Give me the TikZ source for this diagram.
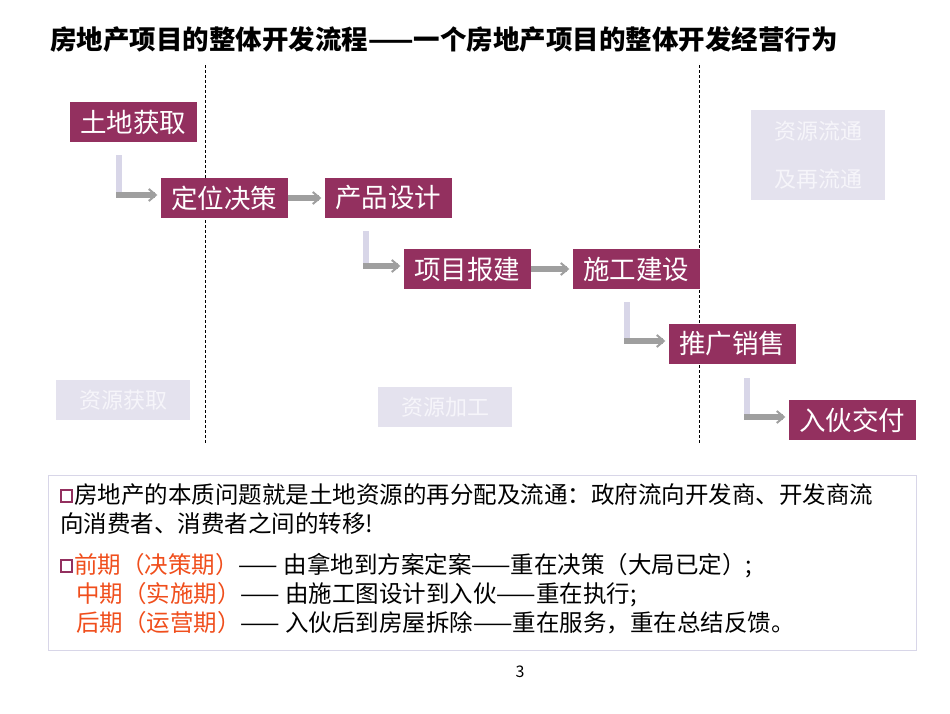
\documentclass[tikz,border=0pt]{standalone}
\usepackage{fontspec}
\setmainfont{Noto Sans CJK SC}
\usetikzlibrary{arrows.meta}
\definecolor{plum}{HTML}{93305F}
\definecolor{pale}{HTML}{E4E2EE}
\definecolor{paletext}{HTML}{F6F5FA}
\definecolor{lav}{HTML}{D8D6E8}
\definecolor{org}{HTML}{F04E1C}
\newcommand{\sqmark}{\tikz[baseline=-1pt,x=1pt,y=1pt]\draw[plum,line width=2.2pt,fill=white] (0,0) rectangle (11,12);}
\tikzset{
 stepbox/.style={fill=plum,text=white,minimum width=127pt,minimum height=40pt,inner sep=0pt,font=\fontsize{26.5}{30}\selectfont},
 palebox/.style={fill=pale,text=paletext,minimum width=134pt,minimum height=40pt,inner sep=0pt,font=\fontsize{22}{48}\selectfont,align=center},
 arr/.style={draw=gray!75,line width=6pt,-{Straight Barb[length=7pt,width=12pt,line width=2pt]},shorten >=3pt},
 bar/.style={draw=lav,line width=6pt},
 sep/.style={dash pattern=on 3pt off 2pt,line width=0.8pt}
}
\begin{document}
\begin{tikzpicture}[x=1pt,y=-1pt]
\useasboundingbox[fill=white] (0,0) rectangle (950,713);
\node[anchor=west,font=\fontsize{26.5}{30}\selectfont\bfseries,inner sep=0pt] (title) at (50,40) {房地产项目的整体开发流程——一个房地产项目的整体开发经营行为};
\coordinate (d1a) at (205,65); \coordinate (d1b) at (205,443);
\coordinate (d2a) at (699,65); \coordinate (d2b) at (699,443);
\draw[sep] (d1a) -- (d1b); \draw[sep] (d2a) -- (d2b);
\node[palebox] (r1) at (123,400) {资源获取};
\node[palebox] (r2) at (445,407) {资源加工};
\node[palebox,minimum height=90pt] (r3) at (818,155) {资源流通\\及再流通};
\node[stepbox] (s1) at (133,122) {土地获取};
\node[stepbox] (s2) at (224,198) {定位决策};
\node[stepbox] (s3) at (388,198) {产品设计};
\node[stepbox] (s4) at (467,269) {项目报建};
\node[stepbox] (s5) at (636,269) {施工建设};
\node[stepbox] (s6) at (732,344) {推广销售};
\node[stepbox] (s7) at (852,420) {入伙交付};
% L connectors
\coordinate (a1t) at (119,155); \coordinate (a1b) at (119,195);
\draw[bar] (a1t) -- (a1b); \draw[arr] (116,195) -- (s2.west |- 0,195);
\coordinate (a2t) at (366,231); \coordinate (a2b) at (366,266);
\draw[bar] (a2t) -- (a2b); \draw[arr] (363,266) -- (s4.west |- 0,266);
\coordinate (a3t) at (627,302); \coordinate (a3b) at (627,341);
\draw[bar] (a3t) -- (a3b); \draw[arr] (624,341) -- (s6.west |- 0,341);
\coordinate (a4t) at (747,378); \coordinate (a4b) at (747,417);
\draw[bar] (a4t) -- (a4b); \draw[arr] (744,417) -- (s7.west |- 0,417);
\draw[arr] (s2.east) -- (s3.west);
\draw[arr] (s4.east) -- (s5.west);
% bottom box
\node[draw=lav,line width=1pt,minimum width=868pt,minimum height=175pt,anchor=north west] (info) at (48,475) {};
\node[anchor=north west,align=left,font=\fontsize{23.5}{29}\selectfont,inner sep=0pt] (txt) at (60,483)
{\sqmark\hspace{1pt}房地产的本质问题就是土地资源的再分配及流通：政府流向开发商、开发商流\\
向消费者、消费者之间的转移!\\[12pt]
\sqmark\hspace{1pt}\textcolor{org}{前期（决策期）}—— 由拿地到方案定案——重在决策（大局已定）;\\
\hspace{16pt}\textcolor{org}{中期（实施期）}—— 由施工图设计到入伙——重在执行;\\
\hspace{16pt}\textcolor{org}{后期（运营期）}—— 入伙后到房屋拆除——重在服务，重在总结反馈。};
\node[font=\fontsize{16}{16}\selectfont\rmfamily] (pg) at (520,672) {3};
\end{tikzpicture}
\end{document}
